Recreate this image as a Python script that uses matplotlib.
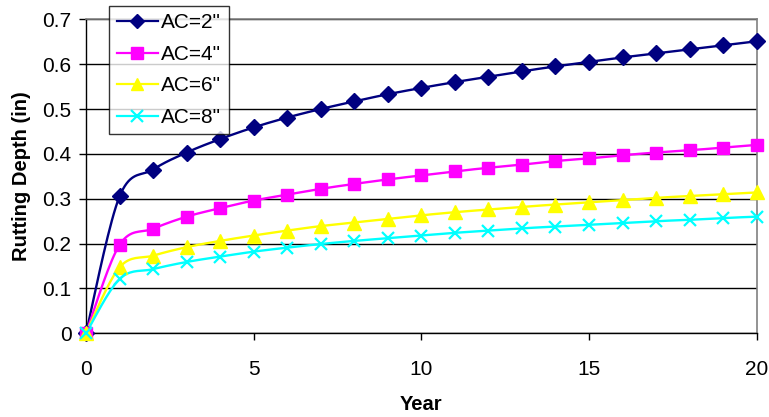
import numpy as np
import matplotlib
matplotlib.use("Agg")
import matplotlib.pyplot as plt

plt.rcParams['font.family'] = ['Liberation Sans', 'DejaVu Sans']

years = list(range(0, 21))
ac2 = [0, 0.305, 0.365, 0.403, 0.433, 0.459, 0.481, 0.500, 0.517, 0.533, 0.547,
       0.560, 0.572, 0.584, 0.595, 0.605, 0.615, 0.624, 0.633, 0.642, 0.651]
ac4 = [0, 0.197, 0.233, 0.260, 0.279, 0.296, 0.309, 0.322, 0.333, 0.343, 0.352,
       0.361, 0.369, 0.376, 0.384, 0.390, 0.397, 0.403, 0.408, 0.414, 0.420]
ac6 = [0, 0.147, 0.173, 0.192, 0.206, 0.218, 0.229, 0.239, 0.247, 0.255, 0.263,
       0.270, 0.276, 0.282, 0.287, 0.292, 0.297, 0.302, 0.306, 0.310, 0.314]
ac8 = [0, 0.121, 0.143, 0.159, 0.171, 0.182, 0.191, 0.199, 0.206, 0.212, 0.218,
       0.224, 0.229, 0.234, 0.238, 0.242, 0.246, 0.250, 0.253, 0.257, 0.260]
labels = ['AC=2"', 'AC=4"', 'AC=6"', 'AC=8"']


def smooth(x, y, n=20):
    # Excel-like smoothing: cubic Bezier with Catmull-Rom control points
    x = np.asarray(x, float); y = np.asarray(y, float)
    px = np.concatenate([[x[0]], x, [x[-1]]])
    py = np.concatenate([[y[0]], y, [y[-1]]])
    xs, ys = [], []
    t = np.linspace(0, 1, n)
    for i in range(len(x) - 1):
        p0 = np.array([px[i + 1], py[i + 1]])
        p3 = np.array([px[i + 2], py[i + 2]])
        c1 = p0 + (np.array([px[i + 2], py[i + 2]]) - np.array([px[i], py[i]])) / 6
        c2 = p3 - (np.array([px[i + 3], py[i + 3]]) - np.array([px[i + 1], py[i + 1]])) / 6
        b = ((1 - t) ** 3)[:, None] * p0 + (3 * (1 - t) ** 2 * t)[:, None] * c1 \
            + (3 * (1 - t) * t ** 2)[:, None] * c2 + (t ** 3)[:, None] * p3
        xs.extend(b[:, 0]); ys.extend(b[:, 1])
    return np.array(xs), np.array(ys)


fig = plt.figure(figsize=(7.69, 4.17), dpi=100)
ax = fig.add_axes([86 / 769, 1 - 333.3 / 417, (756.7 - 86) / 769, (333.3 - 19.3) / 417])

styles = [
    dict(color='#000080', marker='D', ms=8.5, lms=7.5),
    dict(color='#FF00FF', marker='s', ms=8.5, lms=8),
    dict(color='#FFFF00', marker='^', ms=9.5, lms=9),
    dict(color='#00FFFF', marker='x', ms=8, mew=1.6, lms=8),
]
series = [ac2, ac4, ac6, ac8]
handles = []
for ys_, st, lab in zip(series, styles, labels):
    sx, sy = smooth(years, ys_)
    ax.plot(sx, sy, color=st['color'], lw=1.7, zorder=3)
    ax.plot(years, ys_, linestyle='none', marker=st['marker'], color=st['color'],
            ms=st['ms'], mew=st.get('mew', 1), zorder=4, clip_on=False)
    h, = ax.plot([], [], color=st['color'], lw=1.6, marker=st['marker'],
                 ms=st['lms'], mew=st.get('mew', 1), label=lab)
    handles.append(h)

ax.set_xlim(0, 20)
ax.set_ylim(0, 0.7)
ax.set_xticks([0, 5, 10, 15, 20])
ax.set_yticks([0, 0.1, 0.2, 0.3, 0.4, 0.5, 0.6, 0.7])
ax.set_yticklabels(['0', '0.1', '0.2', '0.3', '0.4', '0.5', '0.6', '0.7'])
ax.yaxis.grid(True, color='black', lw=1)
ax.set_axisbelow(True)
for s in ['top', 'right']:
    ax.spines[s].set_color('#808080')
    ax.spines[s].set_linewidth(1.2)
for s in ['left', 'bottom']:
    ax.spines[s].set_color('black')
    ax.spines[s].set_linewidth(1)
ax.tick_params(axis='both', direction='out', length=5, width=1, labelsize=15, colors='black')
ax.tick_params(axis='x', pad=14.5)
ax.tick_params(axis='y', pad=5.5)
ax.set_xlabel('Year', fontsize=14.5, fontweight='bold', labelpad=11)
ax.set_ylabel('Rutting Depth (in)', fontsize=14.5, fontweight='bold', labelpad=8)

leg = fig.legend(handles=handles, loc='upper left', bbox_to_anchor=(109.3 / 769, 1 - 6 / 417),
                 fontsize=15, frameon=True, fancybox=False, edgecolor='black',
                 handlelength=2.0, borderpad=0.35, labelspacing=0.6, handletextpad=0.15,
                 borderaxespad=0)
leg.get_frame().set_linewidth(1)

fig.savefig('out.png', dpi=100)
